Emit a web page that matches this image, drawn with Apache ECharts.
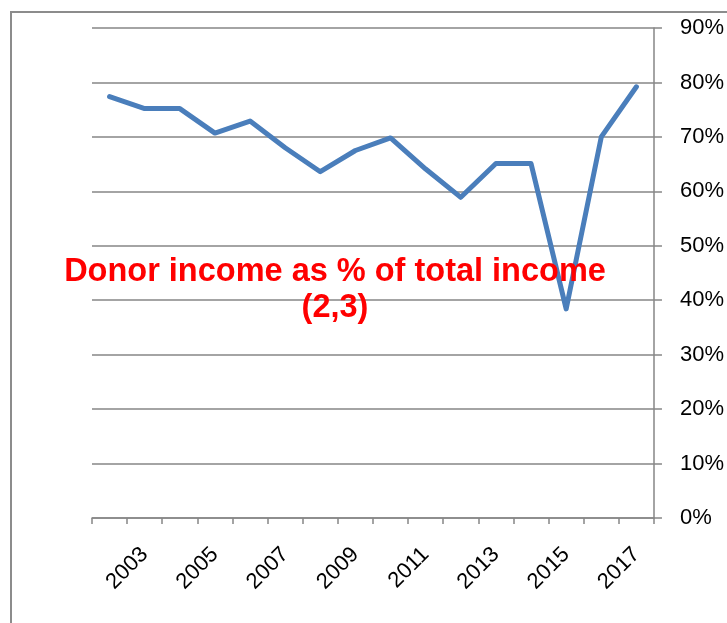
<!DOCTYPE html>
<html><head><meta charset="utf-8">
<script src="https://cdn.jsdelivr.net/npm/echarts@6/dist/echarts.min.js"></script>
<style>html,body{margin:0;padding:0;background:#fff}#c{width:727px;height:623px}</style>
</head><body><div id="c"></div>
<script>
const years = ['2002','2003','2004','2005','2006','2007','2008','2009','2010','2011','2012','2013','2014','2015','2016','2017'];
const donorPct = [77.4,75.2,75.2,70.7,72.9,68.0,63.6,67.5,69.8,64.1,58.9,65.1,65.1,38.4,70.0,79.2];
const yTicks = [0,10,20,30,40,50,60,70,80,90];
const titleLines = ['Donor income as % of total income','(2,3)'];

const chart = echarts.init(document.getElementById('c'), null, {renderer:'canvas'});
const gray = '#868686';
const font = 'Liberation Sans, Arial, sans-serif';
chart.setOption({
  animation:false,
  graphic:[{type:'rect',shape:{x:11,y:12,width:900,height:900},style:{fill:'none',stroke:'#8c8c8c',lineWidth:2},silent:true}],
  title:{text:titleLines.join('\n'),left:330,top:249,textAlign:'center',
    textStyle:{color:'#ff0000',fontWeight:'bold',fontSize:32.5,fontFamily:font,lineHeight:36}},
  grid:{left:92,right:73,top:28,bottom:105,containLabel:false},
  xAxis:{type:'category',data:years,boundaryGap:true,
    axisLine:{lineStyle:{color:gray,width:1.5}},
    axisTick:{show:true,length:6,interval:0,lineStyle:{color:gray,width:1.5}},
    axisLabel:{interval:(i)=>i%2===1,rotate:45,color:'#000',fontSize:22,fontFamily:font,margin:33}},
  yAxis:{type:'value',position:'right',min:0,max:90,interval:10,
    axisLine:{show:true,lineStyle:{color:gray,width:1.5}},
    axisTick:{show:true,length:8,lineStyle:{color:gray,width:1.5}},
    splitLine:{show:true,lineStyle:{color:gray,width:1.5}},
    axisLabel:{formatter:(v)=>yTicks.includes(v)?v+'%':'',color:'#000',fontSize:22,fontFamily:font,margin:26}},
  series:[{type:'line',data:donorPct,showSymbol:false,symbol:'none',
    lineStyle:{color:'#4a7ebb',width:5,cap:'round',join:'round'}}]
});
</script></body></html>
